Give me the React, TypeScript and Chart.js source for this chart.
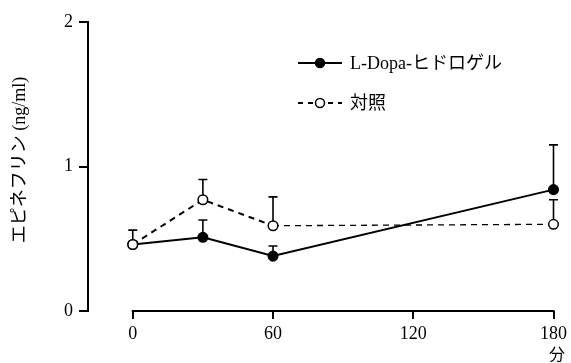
import React, { useEffect, useRef } from "react";
import { Chart, registerables } from "chart.js";

Chart.register(...registerables);

const times = [0, 30, 60, 180];
const ldopaValues = [0.46, 0.51, 0.38, 0.84];
const ldopaErrors = [0.1, 0.12, 0.07, 0.31];
const controlValues = [0.46, 0.77, 0.59, 0.6];
const controlErrors = [0, 0.14, 0.2, 0.17];
const xTicks = [0, 60, 120, 180];
const yTicks = [0, 1, 2];
const seriesLabels = ["L-Dopa-ヒドロゲル", "対照"];
const yTitle = "エピネフリン (ng/ml)";
const xTitle = "分";

const SERIF = "'Liberation Serif', 'Noto Sans CJK JP', serif";

const customPlugin = {
  id: "custom",
  beforeDatasetsDraw(chart: any) {
    const ctx = chart.ctx;
    const xs = chart.scales.x;
    const ys = chart.scales.y;
    ctx.save();
    // x axis line
    ctx.strokeStyle = "#000";
    ctx.lineWidth = 2;
    ctx.beginPath();
    ctx.moveTo(xs.getPixelForValue(xTicks[0]) - 1, ys.bottom);
    ctx.lineTo(xs.getPixelForValue(xTicks[xTicks.length - 1]) + 1, ys.bottom);
    ctx.stroke();
    // error bars
    const errs = [ldopaErrors, controlErrors];
    const vals = [ldopaValues, controlValues];
    ctx.lineWidth = 1.6;
    for (let s = 0; s < 2; s++) {
      for (let i = 0; i < times.length; i++) {
        const e = errs[s][i];
        if (!e) continue;
        const px = xs.getPixelForValue(times[i]);
        const y0 = ys.getPixelForValue(vals[s][i]);
        const y1 = ys.getPixelForValue(vals[s][i] + e);
        ctx.beginPath();
        ctx.moveTo(px, y0);
        ctx.lineTo(px, y1);
        ctx.moveTo(px - 4.5, y1);
        ctx.lineTo(px + 4.5, y1);
        ctx.stroke();
      }
    }
    ctx.restore();
  },
  afterDraw(chart: any) {
    const ctx = chart.ctx;
    ctx.save();
    // y title
    ctx.fillStyle = "#000";
    ctx.font = `18px ${SERIF}`;
    ctx.textAlign = "center";
    ctx.textBaseline = "middle";
    ctx.translate(20, 160);
    ctx.rotate(-Math.PI / 2);
    ctx.fillText(yTitle, 0, 0);
    ctx.restore();
    ctx.save();
    ctx.fillStyle = "#000";
    ctx.font = `16px ${SERIF}`;
    ctx.textAlign = "center";
    ctx.textBaseline = "middle";
    ctx.fillText(xTitle, 557, 356);
    // legend
    const rows = [63, 103];
    ctx.textAlign = "left";
    ctx.font = `18px ${SERIF}`;
    for (let r = 0; r < 2; r++) {
      const y = rows[r];
      ctx.strokeStyle = "#000";
      ctx.lineWidth = 2;
      ctx.setLineDash(r === 0 ? [] : [5, 5]);
      ctx.beginPath();
      ctx.moveTo(298, y);
      ctx.lineTo(342, y);
      ctx.stroke();
      ctx.setLineDash([]);
      ctx.beginPath();
      ctx.arc(320, y, 4.5, 0, Math.PI * 2);
      ctx.fillStyle = r === 0 ? "#000" : "#fff";
      ctx.fill();
      ctx.lineWidth = 1.5;
      ctx.stroke();
      ctx.fillStyle = "#000";
      ctx.fillText(seriesLabels[r], 350, y + 1);
    }
    ctx.restore();
  },
};

export default function App() {
  const ref = useRef<HTMLCanvasElement>(null);
  useEffect(() => {
    if (!ref.current) return;
    const pxPerUnit = (556 - 133) / 180;
    const xMin = -(133 - 88) / pxPerUnit;
    const chart = new Chart(ref.current, {
      type: "line",
      data: {
        datasets: [
          {
            label: seriesLabels[0],
            data: times.map((t, i) => ({ x: t, y: ldopaValues[i] })),
            borderColor: "#000",
            borderWidth: 2,
            pointRadius: 4.8,
            pointBackgroundColor: "#000",
            pointBorderColor: "#000",
            pointBorderWidth: 1.5,
            clip: false as any,
            order: 2,
          },
          {
            label: seriesLabels[1],
            data: times.map((t, i) => ({ x: t, y: controlValues[i] })),
            borderColor: "#000",
            borderWidth: 2,
            borderDash: [6, 5],
            pointRadius: 4.8,
            pointBackgroundColor: "#fff",
            pointBorderColor: "#000",
            pointBorderWidth: 1.5,
            clip: false as any,
            order: 1,
            segment: {
              borderWidth: (c: any) => (c.p0DataIndex === 2 ? 1.3 : 2),
            },
          },
        ],
      },
      options: {
        responsive: false,
        animation: false,
        layout: { padding: { top: 22, right: 15, left: 0, bottom: 0 } },
        plugins: { legend: { display: false }, tooltip: { enabled: false } },
        scales: {
          x: {
            type: "linear",
            min: xMin,
            max: 180,
            afterFit: (s: any) => {
              s.height = 52;
            },
            afterBuildTicks: (s: any) => {
              s.ticks = xTicks.map((v) => ({ value: v }));
            },
            border: { display: false },
            grid: {
              drawOnChartArea: false,
              drawTicks: true,
              tickLength: 8,
              color: "#000",
              lineWidth: 2,
            },
            ticks: {
              color: "#000",
              font: { family: SERIF, size: 18 },
              padding: 4,
              maxRotation: 0,
              autoSkip: false,
            },
          },
          y: {
            min: 0,
            max: 2,
            afterFit: (s: any) => {
              s.width = 88;
            },
            afterBuildTicks: (s: any) => {
              s.ticks = yTicks.map((v) => ({ value: v }));
            },
            border: { display: true, color: "#000", width: 2 },
            grid: {
              drawOnChartArea: false,
              drawTicks: true,
              tickLength: 9,
              color: "#000",
              lineWidth: 2,
            },
            ticks: {
              color: "#000",
              font: { family: SERIF, size: 18 },
              padding: 6,
            },
          },
        },
      },
      plugins: [customPlugin],
    });
    return () => chart.destroy();
  }, []);
  return (
    <div style={{ position: "absolute", left: 0, top: 0, width: 571, height: 363, background: "#fff" }}>
      <canvas ref={ref} width={571} height={363} style={{ display: "block" }} />
    </div>
  );
}
